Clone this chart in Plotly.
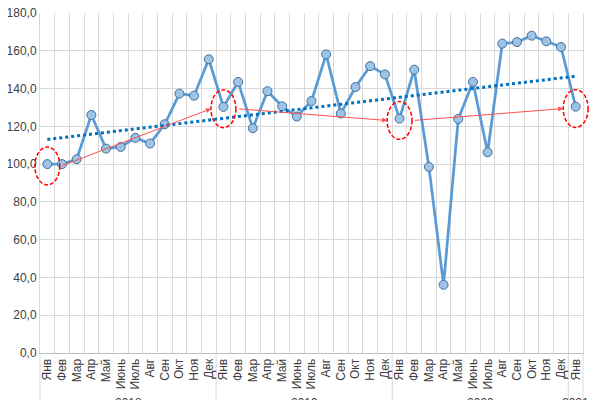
import numpy as np
import plotly.graph_objects as go

months = ["Янв", "Фев", "Мар", "Апр", "Май", "Июнь", "Июль", "Авг", "Сен", "Окт", "Ноя", "Дек"]
years = ["2018", "2019", "2020", "2021"]
labels = months * 3 + ["Янв"]
values = [100.0, 100.0, 102.6, 126.0, 108.2, 109.1, 113.9, 110.9, 121.1, 137.3, 136.2, 155.5,
          130.3, 143.5, 119.0, 138.6, 130.6, 125.2, 133.4, 158.1, 126.8, 140.8, 151.9, 147.5,
          124.1, 150.0, 98.5, 36.1, 123.9, 143.5, 106.3, 163.8, 164.6, 168.0, 165.0, 162.0,
          130.4]
y_ticks = [0, 20, 40, 60, 80, 100, 120, 140, 160, 180]

x = np.arange(len(values))
jan_idx = [i for i, m in enumerate(labels) if m == "Янв"]
XR = [-0.5, len(values) - 0.5]
YR = [0, 180]

slope, intercept = np.polyfit(x, values, 1)
trend = slope * x + intercept

GRID = "#d9d9d9"
fig = go.Figure()
fig.add_trace(go.Scatter(
    x=x, y=values, mode="lines+markers",
    line=dict(color="#5b9bd5", width=2.75),
    marker=dict(size=9, color="#9dc3e6", line=dict(color="#41719c", width=1)),
    showlegend=False, hoverinfo="skip"))
fig.add_trace(go.Scatter(
    x=[x[0], x[-1]], y=[trend[0], trend[-1]], mode="lines",
    line=dict(color="#0070c0", width=3, dash="dot"),
    showlegend=False, hoverinfo="skip"))


def px(v):
    return (v - XR[0]) / (XR[1] - XR[0])


def py(v):
    return (v - YR[0]) / (YR[1] - YR[0])


shapes = []
for i in jan_idx:
    v = values[i]
    shapes.append(dict(type="circle", xref="paper", yref="paper",
                       x0=px(i - 0.85), x1=px(i + 0.85), y0=py(v - 11), y1=py(v + 9),
                       line=dict(color="#ff0000", width=1.5, dash="4px,2px")))
# year separators extending into label area
for b in [-0.5, 11.5, 23.5, 35.5, 36.5]:
    shapes.append(dict(type="line", xref="paper", yref="paper", x0=px(b), x1=px(b), y0=0, y1=-0.2,
                       line=dict(color=GRID, width=1), layer="below"))

annotations = []
for a, b in zip(jan_idx[:-1], jan_idx[1:]):
    annotations.append(dict(x=b - 0.85, y=values[b] - 1, ax=a + 0.95, ay=values[a] - 1,
                            xref="x", yref="y", axref="x", ayref="y", text="",
                            showarrow=True, arrowhead=2, arrowsize=1, arrowwidth=1,
                            arrowcolor="#ff5050", standoff=0, startstandoff=0))
year_pos = [5.5, 17.5, 29.5, 36]
for yr, xp in zip(years, year_pos):
    annotations.append(dict(x=xp, y=-0.122, xref="x", yref="paper", text=yr,
                            showarrow=False, yanchor="top",
                            font=dict(family="Liberation Sans, Arial", size=12, color="#404040")))

fig.update_layout(
    width=600, height=400,
    margin=dict(l=32, r=25, t=4.5, b=55),
    paper_bgcolor="white", plot_bgcolor="white",
    separators=", ",
    font=dict(family="Liberation Sans, Arial", size=12, color="#404040"),
    shapes=shapes, annotations=annotations,
    xaxis=dict(range=XR, tickmode="array", tickvals=list(x), ticktext=labels,
               tickangle=-90, showgrid=False, zeroline=False, automargin=False,
               showline=True, linecolor="#bfbfbf", linewidth=1,
               tickfont=dict(size=12, color="#404040"),
               minor=dict(tickmode="array", tickvals=[i - 0.5 for i in range(len(values) + 1)],
                          showgrid=True, gridcolor=GRID, gridwidth=1)),
    yaxis=dict(range=YR, tickmode="array", tickvals=y_ticks, tickformat=".1f",
               showgrid=True, gridcolor=GRID, gridwidth=1, zeroline=False, automargin=False,
               showline=True, mirror=True, linecolor=GRID, ticklabeloverflow="allow",
               tickfont=dict(size=12, color="#404040")),
)
fig.write_html("out.html")
